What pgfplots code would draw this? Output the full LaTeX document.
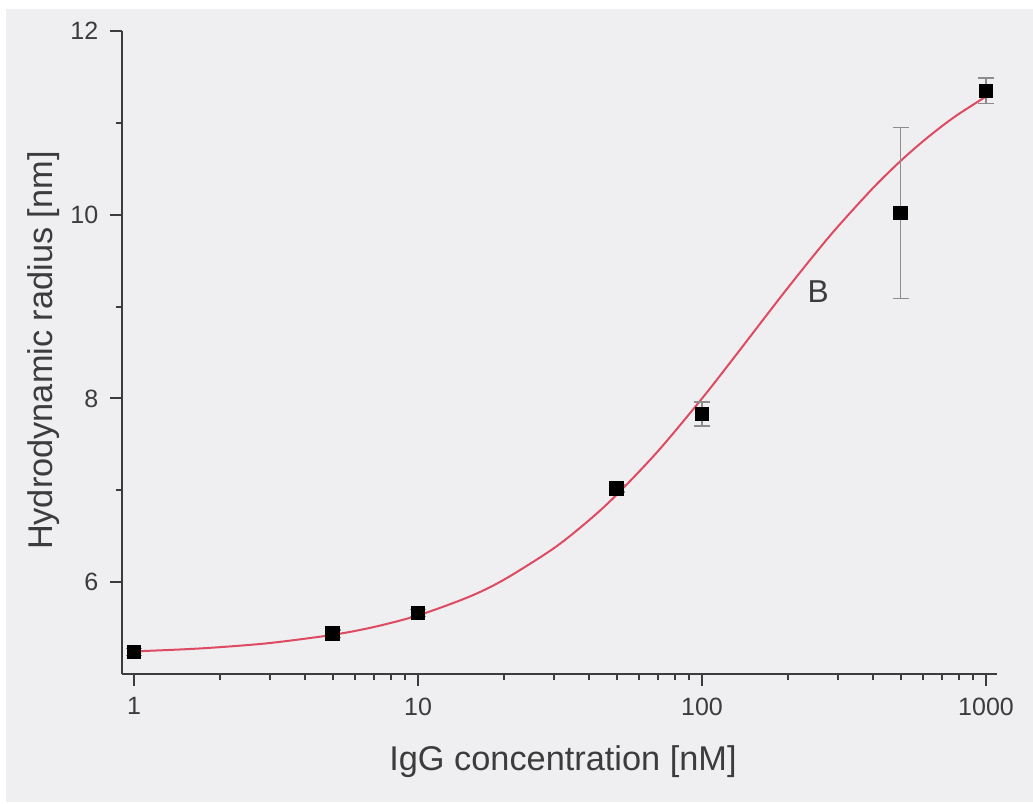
\documentclass[border=0pt]{standalone}
\usepackage{pgfplots}
\pgfplotsset{compat=1.18}
\usepackage{fontspec}
\setmainfont{Liberation Sans}
\definecolor{bggray}{HTML}{EFEEF0}
\definecolor{axgray}{HTML}{3C3C3C}
\definecolor{fitred}{HTML}{DE4A62}
\definecolor{errgray}{HTML}{8C8C8C}

\begin{document}
\begin{tikzpicture}
% background, 1 px = 0.3pt, axis corner at (0,0)
\path[use as bounding box, fill=white] (-36.6pt,-38.7pt) rectangle (273.3pt,202.2pt);
\fill[bggray] (-34.8pt,-38.4pt) rectangle (273.3pt,199.5pt);
\begin{axis}[
    scale only axis,
    width=262.5pt,
    height=192.9pt,
    xmode=log,
    xmin=0.907, xmax=1093,
    ymin=5, ymax=12,
    axis x line*=bottom,
    axis y line*=left,
    axis line style={axgray, line width=0.6pt, -},
    xtick={1,10,100,1000},
    xticklabels={1,10,100,1000},
    minor xtick={2,3,4,5,6,7,8,9,20,30,40,50,60,70,80,90,200,300,400,500,600,700,800,900},
    ytick={6,8,10,12},
    minor ytick={7,9,11},
    tick align=outside,
    major tick length=3.6pt,
    minor tick length=1.8pt,
    tick style={axgray, line width=0.6pt},
    ticklabel style={font=\fontsize{7.5}{9}\selectfont, text=axgray},
    /pgf/number format/assume math mode=true,
    log ticks with fixed point,
    xlabel={IgG concentration [nM]},
    ylabel={Hydrodynamic radius [nm]},
    xlabel style={font=\fontsize{10.3}{12}\selectfont, text=axgray,
        at={([yshift=-28.8pt]axis description cs:0.504,0)}, anchor=base},
    ylabel style={font=\fontsize{10.3}{12}\selectfont, text=axgray,
        at={([xshift=-20.7pt]axis description cs:0,0.503)}, anchor=base},
    clip=false,
]
% fitted curve
\addplot[fitred, line width=0.6pt, smooth] coordinates {
    (1,5.246) (1.5,5.269) (2,5.292) (3,5.337) (5,5.426) (7,5.512)
    (10,5.638) (15,5.836) (20,6.024) (30,6.367) (40,6.674) (50,6.950)
    (70,7.427) (100,8.000) (130,8.450) (170,8.919) (200,9.200)
    (250,9.575) (300,9.867) (400,10.291) (500,10.585) (600,10.800)
    (700,10.965) (800,11.095) (1000,11.287)
};
% measured points with error bars
\addplot[only marks, mark=square*, mark size=1.95pt, black,
    error bars/.cd, y dir=both, y explicit,
    error bar style={errgray, line width=0.4pt},
    error mark options={rotate=90, mark size=2.4pt, errgray, line width=0.4pt}]
    coordinates {
    (1,5.24) +- (0,0.04)
    (5,5.44) +- (0,0.04)
    (10,5.665) +- (0,0.04)
    (50,7.02) +- (0,0.04)
    (100,7.83) +- (0,0.13)
    (500,10.02) +- (0,0.93)
    (1000,11.35) +- (0,0.14)
};
\node[anchor=base west, font=\fontsize{9.5}{11}\selectfont, text=axgray, inner sep=0pt]
    at (axis cs:234,9.04) {B};
\end{axis}
\end{tikzpicture}
\end{document}
